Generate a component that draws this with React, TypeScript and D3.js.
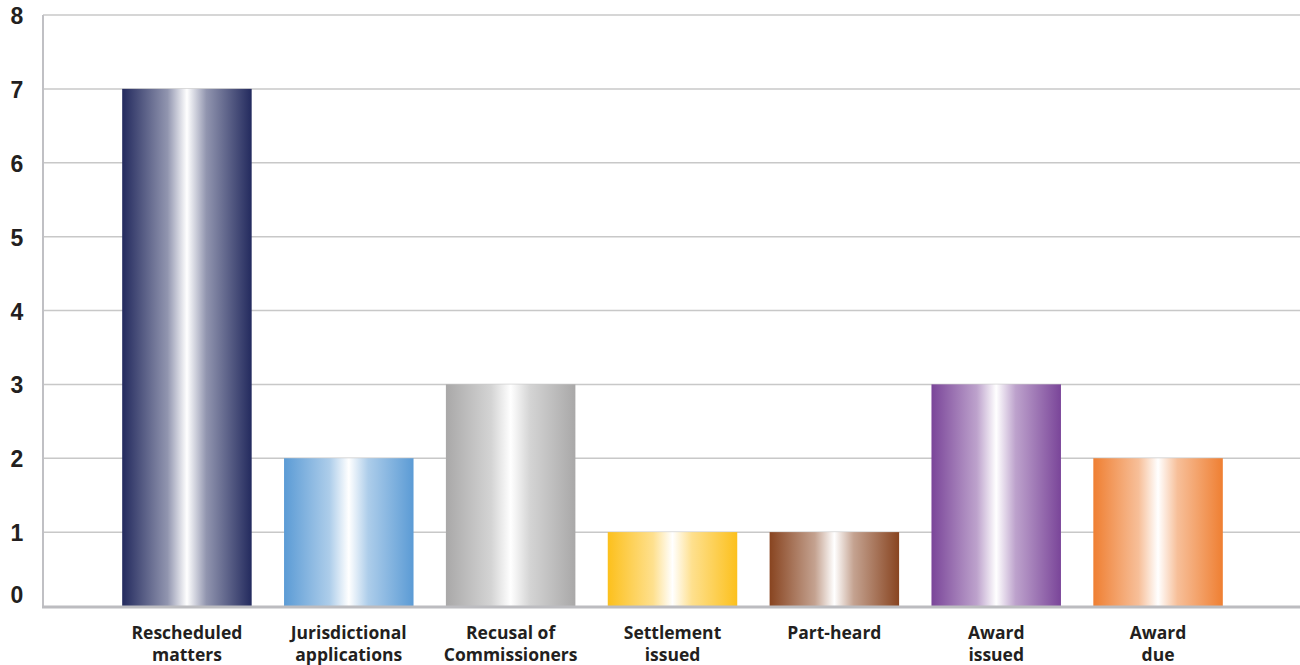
import React, { useEffect, useRef } from "react";
import * as d3 from "d3";

const categories = [
  ["Rescheduled", "matters"],
  ["Jurisdictional", "applications"],
  ["Recusal of", "Commissioners"],
  ["Settlement", "issued"],
  ["Part-heard"],
  ["Award", "issued"],
  ["Award", "due"],
];
const values = [7, 2, 3, 1, 1, 3, 2];
const barColors = ["#232a5e", "#5b9bd5", "#a9a8a8", "#fcc01c", "#884420", "#7a4599", "#ef7f32"];
const yTicks = [0, 1, 2, 3, 4, 5, 6, 7, 8];

const Chart = () => {
  const ref = useRef<SVGSVGElement>(null);

  useEffect(() => {
    const svg = d3.select(ref.current);
    svg.selectAll("*").remove();

    const plotLeft = 43;
    const plotRight = 1300;
    const y = d3.scaleLinear().domain([0, 8]).range([606, 15]);
    const x = d3
      .scaleBand<number>()
      .domain(d3.range(categories.length))
      .range([106, 1239])
      .paddingInner(0.2)
      .paddingOuter(0.1);

    // gradients: edge colour -> white in the middle -> edge colour
    const defs = svg.append("defs");
    barColors.forEach((c, i) => {
      const g = defs
        .append("linearGradient")
        .attr("id", "grad" + i)
        .attr("x1", "0%")
        .attr("x2", "100%")
        .attr("y1", "0%")
        .attr("y2", "0%");
      const stops: [number, number][] = [
        [0, 1],
        [0.35, 0.5],
        [0.5, 0],
        [0.65, 0.5],
        [1, 1],
      ];
      stops.forEach(([o, op]) => {
        g.append("stop")
          .attr("offset", o)
          .attr("stop-color", d3.interpolateRgb("#ffffff", c)(op));
      });
    });

    // grid lines
    svg
      .append("g")
      .selectAll("line")
      .data(yTicks.filter((t) => t > 0))
      .enter()
      .append("line")
      .attr("x1", plotLeft)
      .attr("x2", plotRight)
      .attr("y1", (d) => y(d))
      .attr("y2", (d) => y(d))
      .attr("stroke", "#c8c8c8")
      .attr("stroke-width", 1.5);

    // left axis line
    svg
      .append("line")
      .attr("x1", plotLeft)
      .attr("x2", plotLeft)
      .attr("y1", y(8))
      .attr("y2", y(0))
      .attr("stroke", "#c0c0c4")
      .attr("stroke-width", 2);

    // y tick labels
    svg
      .append("g")
      .selectAll("text")
      .data(yTicks)
      .enter()
      .append("text")
      .attr("x", 17)
      .attr("y", (d) => y(d) + 9 + (d === 0 ? -12 : 0))
      .attr("text-anchor", "middle")
      .attr("font-family", "'Liberation Sans', Arial, sans-serif")
      .attr("font-weight", "bold")
      .attr("font-size", 23)
      .attr("fill", "#231f20")
      .text((d) => d);

    // bars
    svg
      .append("g")
      .selectAll("rect")
      .data(values)
      .enter()
      .append("rect")
      .attr("x", (_, i) => x(i)!)
      .attr("width", x.bandwidth())
      .attr("y", (d) => y(d))
      .attr("height", (d) => y(0) - y(d))
      .attr("fill", (_, i) => "url(#grad" + i + ")");

    // baseline
    svg
      .append("line")
      .attr("x1", plotLeft - 1)
      .attr("x2", plotRight)
      .attr("y1", y(0) + 1)
      .attr("y2", y(0) + 1)
      .attr("stroke", "#bcbcc0")
      .attr("stroke-width", 3);

    // category labels
    const lbl = svg
      .append("g")
      .selectAll("text")
      .data(categories)
      .enter()
      .append("text")
      .attr("x", (_, i) => x(i)! + x.bandwidth() / 2)
      .attr("text-anchor", "middle")
      .attr("font-family", "'Open Sans', sans-serif")
      .attr("font-weight", "bold")
      .attr("font-size", 17.5)
      .attr("fill", "#231f20");
    lbl
      .selectAll("tspan")
      .data((d) => d)
      .enter()
      .append("tspan")
      .attr("x", function () {
        return (this.parentNode as SVGTextElement).getAttribute("x");
      })
      .attr("y", (_, j) => 639 + j * 22)
      .text((d) => d);
  }, []);

  return <svg ref={ref} width={1300} height={665} style={{ display: "block" }} />;
};

export default function App() {
  return (
    <div style={{ position: "absolute", left: 0, top: 0 }}>
      <Chart />
    </div>
  );
}
